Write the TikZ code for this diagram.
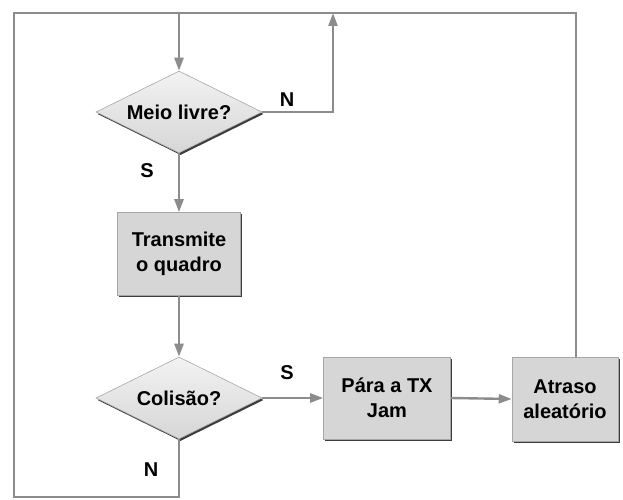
\documentclass[tikz,border=0pt]{standalone}
\usepackage{fontspec}
\setmainfont{Liberation Sans}
\usetikzlibrary{shapes.geometric,arrows.meta,shadows}
\definecolor{linegray}{RGB}{140,140,140}
\definecolor{boxfill}{RGB}{214,214,214}
\definecolor{shadowgray}{RGB}{60,60,60}
\begin{document}
\begin{tikzpicture}[x=1pt,y=-1pt,
  every node/.style={font=\fontsize{20}{24.5}\selectfont\bfseries},
  flowline/.style={draw=linegray,line width=2.4pt},
  arr/.style={flowline,-{Triangle[length=13pt,width=9pt]}},
  boxnode/.style={rectangle,draw=gray!70,line width=0.6pt,fill=boxfill,align=center,inner sep=0pt,
    drop shadow={shadow xshift=1.8pt,shadow yshift=-1.8pt,fill=shadowgray,opacity=1}},
  decision/.style={diamond,aspect=2.2,draw=gray!70,line width=0.6pt,top color=gray!10,bottom color=gray!32,inner sep=0pt,
    minimum width=166pt,minimum height=82pt,
    drop shadow={shadow xshift=1.5pt,shadow yshift=-2pt,fill=shadowgray,opacity=1}},
  lbl/.style={inner sep=0pt}]
\useasboundingbox (0,0) rectangle (623,500);
% nodes
\node[decision] (meio) at (179,112) {Meio livre?};
\node[boxnode,minimum width=123pt,minimum height=83pt] (tx) at (179,254) {Transmite\\o quadro};
\node[decision] (col) at (179,398) {Colisão?};
\node[boxnode,minimum width=127pt,minimum height=82pt] (para) at (387,398) {Pára a TX\\Jam};
\node[boxnode,minimum width=106pt,minimum height=84pt] (atr) at (565,399) {Atraso\\aleatório};
% corner coordinates
\coordinate (tl) at (14,13);
\coordinate (tr) at (576,13);
\coordinate (bl) at (14,497);
\coordinate (bc) at (179,497);
\coordinate (tc) at (179,13);
\coordinate (tn) at (333,13);
% connectors
\draw[arr] (tc) -- (meio.north);
\draw[arr] (meio.east) -| (tn);
\draw[arr] (meio.south) -- (tx.north);
\draw[arr] (tx.south) -- (col.north);
\draw[arr] (col.east) -- (para.west);
\draw[arr] (para.east) -- (atr.west);
\draw[flowline] (atr.north -| tr) -- (tr) -- (tl) -- (bl) -- (bc) -- (col.south);
% labels
\node[lbl] (lN1) at (287,100) {N};
\node[lbl] (lS1) at (147,171) {S};
\node[lbl] (lS2) at (287,373) {S};
\node[lbl] (lN2) at (151,470) {N};
\end{tikzpicture}
\end{document}
